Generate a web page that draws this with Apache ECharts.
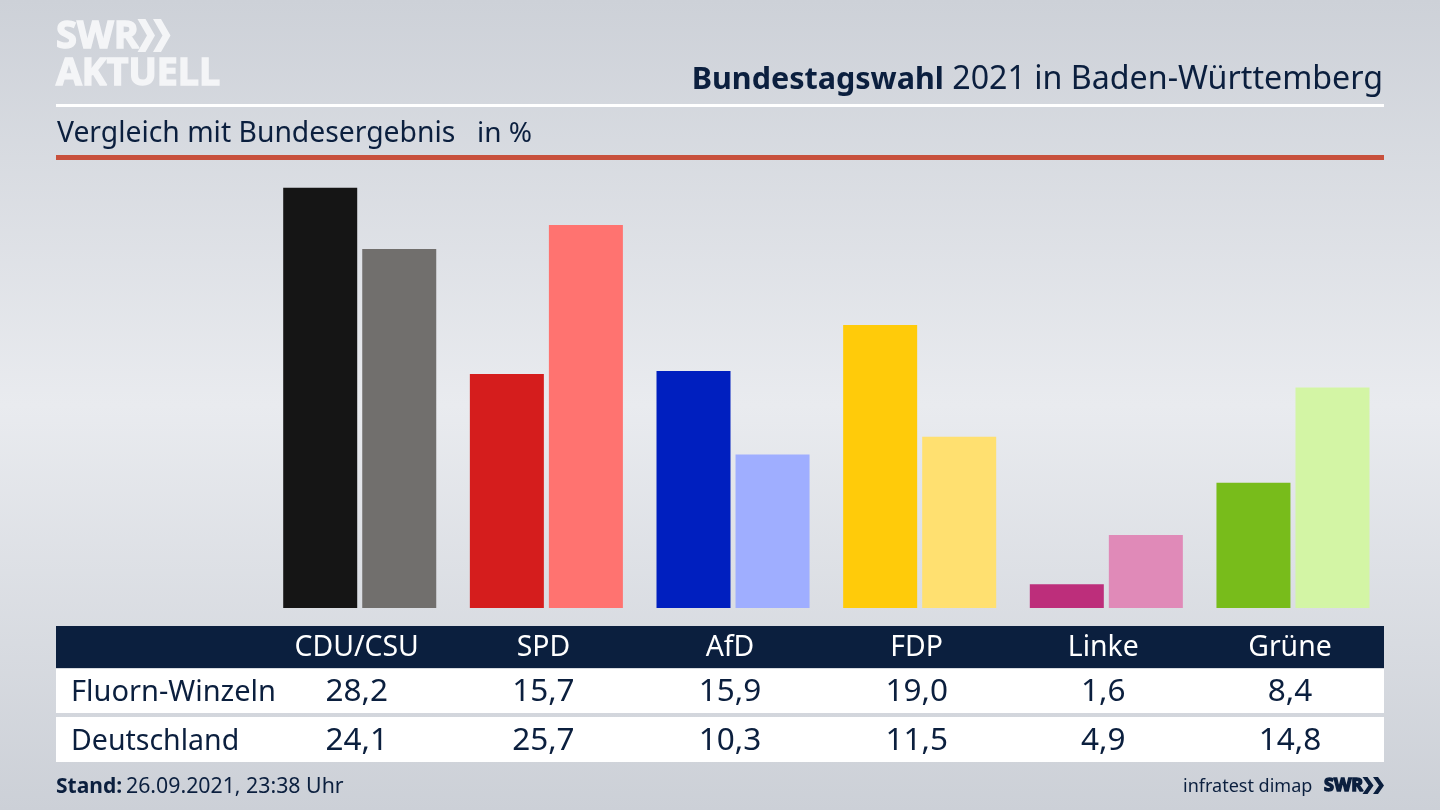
<!DOCTYPE html>
<html><head><meta charset="utf-8">
<style>html,body{margin:0;padding:0;width:1440px;height:810px;overflow:hidden}#c{width:1440px;height:810px}</style>
<script src="https://cdn.jsdelivr.net/npm/echarts@6/dist/echarts.min.js"></script>
</head><body><div id="c"></div>
<script>
const parties = ['CDU/CSU','SPD','AfD','FDP','Linke','Grüne'];
const localName = 'Fluorn-Winzeln';
const nationalName = 'Deutschland';
const localValues = [28.2,15.7,15.9,19.0,1.6,8.4];
const nationalValues = [24.1,25.7,10.3,11.5,4.9,14.8];
const localColors = ['#151515','#d51d1d','#001fbf','#ffcb0a','#bd2e7b','#78bc1b'];
const nationalColors = ['#716f6d','#ff7370','#9faeff','#ffe070','#e08ab8','#d3f5a5'];

const NAVY = '#0b1f3e';
const LOGO = '#f4f5f7';
const FONT = '"Noto Sans"';
const fmt = v => v.toFixed(1).replace('.', ',');
function label(x,y,text,size,opt){
  return {type:'text',z:20,x:x,y:y,style:Object.assign({text:text,fontFamily:FONT,fontSize:size,fill:NAVY,verticalAlign:'middle'},opt||{})};
}
function heavy(x,y,text,size,color){
  return label(x,y,text,size,{fontWeight:'bold',fontFamily:'"Open Sans"',fill:color,stroke:color,lineWidth:1.4});
}
function rect(x,y,w,h,fill){return {type:'rect',z:1,shape:{x:x,y:y,width:w,height:h},style:{fill:fill},silent:true};}
function chev(x,y,w,h,t,fill){
  return {type:'polygon',z:20,shape:{points:[[x,y],[x+t,y],[x+t+w,y+h/2],[x+t,y+h],[x,y+h],[x+w,y+h/2]]},style:{fill:fill}};
}
function rowGrid(yc){return {left:263.4,width:1119.9,top:yc,height:1};}
function rowAxis(idx,data,size,color){
  return {type:'category',gridIndex:idx,data:data,position:'bottom',z:30,
    axisLine:{show:false},axisTick:{show:false},
    axisLabel:{interval:0,margin:0,fontFamily:FONT,fontSize:size,color:color,verticalAlign:'middle',align:'center'}};
}
function hiddenY(idx,max){return {type:'value',gridIndex:idx,min:0,max:max,show:false,splitLine:{show:false}};}

const chart = echarts.init(document.getElementById('c'),null,{renderer:'canvas'});
chart.setOption({
  animation:false,
  backgroundColor:{type:'linear',x:0,y:0,x2:0,y2:1,colorStops:[
    {offset:0,color:'#cdd1d8'},{offset:0.5,color:'#e9ebef'},{offset:1,color:'#ccd0d7'}]},
  grid:[
    {left:266.4,width:1119.9,top:187.8,height:420.2},
    rowGrid(647),rowGrid(691),rowGrid(740)
  ],
  xAxis:[
    {type:'category',gridIndex:0,data:parties,axisLine:{show:false},axisTick:{show:false},axisLabel:{show:false}},
    rowAxis(1,parties,28.4,'#ffffff'),
    rowAxis(2,localValues.map(fmt),31.5,NAVY),
    rowAxis(3,nationalValues.map(fmt),31.5,NAVY)
  ],
  yAxis:[hiddenY(0,28.2),hiddenY(1,1),hiddenY(2,1),hiddenY(3,1)],
  series:[
    {name:localName,type:'bar',xAxisIndex:0,yAxisIndex:0,z:5,barWidth:74,barGap:'6.8%',
     data:localValues.map((v,i)=>({value:v,itemStyle:{color:localColors[i]}}))},
    {name:nationalName,type:'bar',xAxisIndex:0,yAxisIndex:0,z:5,barWidth:74,barGap:'6.8%',
     data:nationalValues.map((v,i)=>({value:v,itemStyle:{color:nationalColors[i]}}))}
  ],
  graphic:{elements:[
    rect(56,104,1328,3,'#ffffff'),
    rect(56,155,1328,5,'#c8503c'),
    rect(56,626,1328,42,NAVY),
    rect(56,669,1328,44,'#ffffff'),
    rect(56,717,1328,45,'#ffffff'),
    heavy(56,37,'SWR',38,LOGO),
    chev(137.5,19,9.5,33,8,LOGO),
    chev(153,19,9.5,33,8,LOGO),
    heavy(56,74,'AKTUELL',37.5,LOGO),
    label(1383,80,'{b|Bundestagswahl} 2021 in Baden-Württemberg',32.2,{align:'right',
      rich:{b:{fontFamily:FONT,fontSize:30.5,fontWeight:'bold',fill:NAVY}}}),
    label(57,134,'Vergleich mit Bundesergebnis',28.3,{}),
    label(477,134,'in %',28,{}),
    label(71,693,localName,29,{}),
    label(71,742,nationalName,28.5,{}),
    label(56,787,'Stand:',21,{fontWeight:'bold'}),
    label(126,787,'26.09.2021, 23:38 Uhr',21.3,{}),
    label(1183,787,'infratest dimap',18,{}),
    heavy(1324,786,'SWR',18,NAVY),
    chev(1362.5,777,6,17,5,NAVY),
    chev(1373,777,6,17,5,NAVY)
  ]}
});
</script></body></html>
